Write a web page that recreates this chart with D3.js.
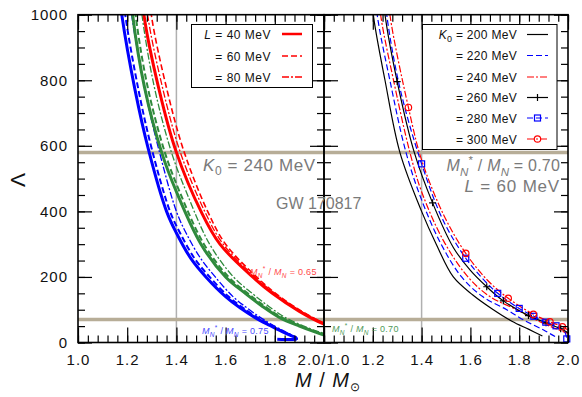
<!DOCTYPE html>
<html>
<head>
<meta charset="utf-8">
<script src="https://cdn.jsdelivr.net/npm/d3@7"></script>
<style>
  body { margin: 0; background: #fff; }
  text { font-family: "Liberation Sans", Arial, sans-serif; }
</style>
</head>
<body>
<svg id="chart" width="582" height="397"></svg>
<script>
// ---- axis / tick values ----
const massTicks = [1.0, 1.2, 1.4, 1.6, 1.8, 2.0];
const lambdaTicks = [0, 200, 400, 600, 800, 1000];
const gwLambdaBounds = [70, 580];
const gwMass = 1.4;

// ---- left panel: K0 = 240 MeV, MN*/MN = 0.75 (blue), 0.70 (green), 0.65 (red); L = 40, 60, 80 MeV ----
const mBlue40 = [1.16, 1.178, 1.232, 1.286, 1.36, 1.40, 1.46, 1.52, 1.60, 1.66, 1.72, 1.78, 1.83, 1.868, 1.885, 1.888, 1.87, 1.84, 1.81];
const lBlue40 = [1120, 1000, 770, 590, 400, 334, 255, 200, 140, 105, 76, 52, 33, 20, 15, 11, 9, 9, 10];
const mBlue60 = [1.175, 1.192, 1.246, 1.300, 1.374, 1.415, 1.475, 1.535, 1.612, 1.672, 1.730, 1.787, 1.835, 1.872, 1.887, 1.889, 1.87];
const lBlue60 = [1120, 1000, 770, 590, 400, 334, 255, 200, 140, 105, 76, 52, 33, 20, 15, 11, 8];
const mBlue80 = [1.20, 1.218, 1.272, 1.328, 1.400, 1.442, 1.500, 1.558, 1.630, 1.688, 1.742, 1.795, 1.842, 1.876, 1.888, 1.884];
const lBlue80 = [1120, 1000, 770, 590, 400, 330, 255, 200, 140, 105, 76, 52, 33, 20, 15, 12];

const mGreen40 = [1.208, 1.222, 1.27, 1.34, 1.40, 1.50, 1.60, 1.68, 1.75, 1.82, 1.90, 1.96, 2.00, 2.04];
const lGreen40 = [1120, 1000, 780, 580, 460, 300, 200, 150, 110, 76, 50, 33, 23, 15];
const mGreen60 = [1.22, 1.234, 1.283, 1.353, 1.413, 1.512, 1.612, 1.690, 1.760, 1.830, 1.908, 1.966, 2.006, 2.045];
const lGreen60 = [1120, 1000, 780, 580, 460, 300, 200, 150, 110, 76, 50, 33, 23, 15];
const mGreen80 = [1.245, 1.26, 1.31, 1.38, 1.44, 1.535, 1.632, 1.708, 1.776, 1.843, 1.918, 1.974, 2.012, 2.05];
const lGreen80 = [1120, 1000, 780, 580, 460, 300, 200, 150, 110, 76, 50, 34, 26, 17];

const mRed40 = [1.255, 1.268, 1.33, 1.40, 1.50, 1.577, 1.71, 1.79, 1.90, 2.00, 2.05];
const lRed40 = [1120, 1000, 770, 580, 400, 300, 200, 150, 95, 56, 44];
const mRed60 = [1.285, 1.298, 1.362, 1.432, 1.527, 1.600, 1.726, 1.803, 1.91, 2.01, 2.06];
const lRed60 = [1120, 1000, 770, 580, 400, 300, 200, 150, 95, 56, 44];
const mRed80 = [1.27, 1.283, 1.346, 1.416, 1.515, 1.59, 1.72, 1.80, 1.908, 2.008, 2.058];
const lRed80 = [1120, 1000, 770, 580, 400, 300, 200, 150, 95, 57, 45];

// ---- right panel: MN*/MN = 0.70, L = 60 MeV; K0 = 200 ... 300 MeV ----
const mK200 = [1.19, 1.202, 1.25, 1.311, 1.40, 1.46, 1.53, 1.61, 1.694, 1.77, 1.84, 1.895];
const lK200 = [1120, 1000, 800, 580, 400, 300, 200, 145, 100, 65, 40, 20];
const mK220 = [1.205, 1.218, 1.27, 1.336, 1.40, 1.48, 1.564, 1.65, 1.749, 1.82, 1.90, 1.947];
const lK220 = [1120, 1000, 800, 580, 435, 300, 200, 140, 100, 68, 38, 18];
const mK240 = [1.218, 1.232, 1.285, 1.352, 1.40, 1.49, 1.59, 1.68, 1.79, 1.88, 1.95, 2.0];
const lK240 = [1120, 1000, 800, 580, 460, 310, 200, 140, 100, 65, 42, 28];
const mK260 = [1.236, 1.25, 1.30, 1.37, 1.445, 1.53, 1.60, 1.667, 1.735, 1.838, 1.91, 1.97, 2.0];
const lK260 = [1120, 1000, 796, 580, 426, 290, 220, 170, 127, 82, 60, 42, 30];
const mK280 = [1.243, 1.257, 1.31, 1.40, 1.49, 1.581, 1.65, 1.712, 1.80, 1.86, 1.909, 1.951, 1.985, 1.995];
const lK280 = [1120, 1000, 780, 545, 370, 257, 195, 150, 104, 80, 62, 51, 35, 11];
const mK300 = [1.256, 1.27, 1.346, 1.40, 1.49, 1.581, 1.67, 1.755, 1.858, 1.926, 1.977, 2.0];
const lK300 = [1120, 1000, 717, 557, 390, 272, 190, 135, 86, 63, 48, 38];

// marker points on the K0 = 260, 280, 300 curves
const mK260Marks = [1.30, 1.445, 1.667, 1.735, 1.838, 1.91, 1.97];
const lK260Marks = [796, 426, 170, 127, 82, 60, 42];
const mK280Marks = [1.40, 1.581, 1.712, 1.80, 1.86, 1.909, 1.951, 1.995];
const lK280Marks = [545, 257, 150, 104, 80, 62, 51, 11];
const mK300Marks = [1.346, 1.581, 1.755, 1.858, 1.926, 1.977];
const lK300Marks = [717, 272, 135, 86, 63, 48];

const leftLegend = ["40", "60", "80"];
const rightLegend = ["200", "220", "240", "260", "280", "300"];

// ---- setup ----
const svg = d3.select("#chart");
const yTop = 14.7, yBottom = 342.5;
const xL = d3.scaleLinear().domain([1, 2]).range([78, 324]);
const xR = d3.scaleLinear().domain([1, 2]).range([324, 568]);
const y = d3.scaleLinear().domain([0, 1000]).range([yBottom, yTop]);

const RED = "#ff0000", BLUE = "#0000ff", GREEN = "#2f8a3c", BLACK = "#000";
const TAN = "#b7ad97", GRAYLINE = "#b0b0b0", TXTGRAY = "#7a7a7a";
const DASH = "6,3", DASHDOT = "7,2,2,2";

const defs = svg.append("defs");
defs.append("clipPath").attr("id", "clipL").append("rect")
  .attr("x", 78).attr("y", yTop).attr("width", 246).attr("height", yBottom - yTop);
defs.append("clipPath").attr("id", "clipR").append("rect")
  .attr("x", 324).attr("y", yTop).attr("width", 244).attr("height", yBottom - yTop);

// GW170817 reference lines
[xL, xR].forEach(x => {
  svg.append("line")
    .attr("x1", x(gwMass)).attr("x2", x(gwMass))
    .attr("y1", yTop).attr("y2", yBottom)
    .attr("stroke", GRAYLINE).attr("stroke-width", 1.5);
});
gwLambdaBounds.forEach(v => {
  svg.append("line")
    .attr("x1", xL(1)).attr("x2", xR(2))
    .attr("y1", y(v)).attr("y2", y(v))
    .attr("stroke", TAN).attr("stroke-width", 3.5);
});

function zip(ms, ls) { return ms.map((m, i) => [m, ls[i]]); }

function drawCurve(g, x, ms, ls, color, dash, width) {
  const line = d3.line()
    .x(d => x(d[0]))
    .y(d => y(d[1]))
    .curve(d3.curveCatmullRom.alpha(0.5));
  g.append("path")
    .datum(zip(ms, ls))
    .attr("d", line)
    .attr("fill", "none")
    .attr("stroke", color)
    .attr("stroke-width", width)
    .attr("stroke-dasharray", dash);
}

// left panel curves
const gL = svg.append("g").attr("clip-path", "url(#clipL)");
drawCurve(gL, xL, mBlue80, lBlue80, BLUE, DASHDOT, 1.3);
drawCurve(gL, xL, mBlue60, lBlue60, BLUE, DASH, 2);
drawCurve(gL, xL, mBlue40, lBlue40, BLUE, null, 3);
drawCurve(gL, xL, mGreen80, lGreen80, GREEN, DASHDOT, 1.3);
drawCurve(gL, xL, mGreen60, lGreen60, GREEN, DASH, 2);
drawCurve(gL, xL, mGreen40, lGreen40, GREEN, null, 3);
drawCurve(gL, xL, mRed80, lRed80, RED, DASHDOT, 1.3);
drawCurve(gL, xL, mRed60, lRed60, RED, DASH, 1.6);
drawCurve(gL, xL, mRed40, lRed40, RED, null, 3);

// right panel curves
const gR = svg.append("g").attr("clip-path", "url(#clipR)");
drawCurve(gR, xR, mK200, lK200, BLACK, null, 1.2);
drawCurve(gR, xR, mK220, lK220, BLUE, DASH, 1.2);
drawCurve(gR, xR, mK240, lK240, RED, DASHDOT, 1.2);
drawCurve(gR, xR, mK260, lK260, BLACK, null, 1.2);
drawCurve(gR, xR, mK280, lK280, BLUE, DASH, 1.2);
drawCurve(gR, xR, mK300, lK300, RED, DASHDOT, 1.2);

function plus(g, cx, cy) {
  g.append("path").attr("d", `M${cx - 3.5},${cy}h7M${cx},${cy - 3.5}v7`)
    .attr("stroke", BLACK).attr("stroke-width", 1.2);
}
function square(g, cx, cy) {
  g.append("rect").attr("x", cx - 3).attr("y", cy - 3).attr("width", 6).attr("height", 6)
    .attr("fill", "none").attr("stroke", BLUE).attr("stroke-width", 1.2);
}
function circle(g, cx, cy) {
  g.append("circle").attr("cx", cx).attr("cy", cy).attr("r", 3.2)
    .attr("fill", "none").attr("stroke", RED).attr("stroke-width", 1.2);
}
const gM = svg.append("g");
mK260Marks.forEach((m, i) => plus(gM, xR(m), y(lK260Marks[i])));
mK280Marks.forEach((m, i) => square(gM, xR(m), y(lK280Marks[i])));
mK300Marks.forEach((m, i) => circle(gM, xR(m), y(lK300Marks[i])));

// ---- axes ----
const minorLambda = d3.range(0, 1001, 50);
const minorMass = d3.range(1, 2.001, 0.04);
const fmtMass = d3.format(".1f");

function styleAxis(g) {
  g.select(".domain").remove();
  g.selectAll(".tick line").attr("stroke", BLACK).attr("stroke-width", 1.2);
  g.selectAll(".tick text")
    .attr("fill", "#111")
    .style("font-size", "15px")
    .style("letter-spacing", "1px")
    .style("font-family", "'Liberation Sans', Arial, sans-serif");
}

function yAxes(xpos, side, labels) {
  const maker = side === "left" ? d3.axisLeft : d3.axisRight;
  svg.append("g").attr("transform", `translate(${xpos},0)`)
    .call(maker(y).tickValues(minorLambda).tickSize(-7).tickFormat(""))
    .call(styleAxis);
  svg.append("g").attr("transform", `translate(${xpos},0)`)
    .call(maker(y).tickValues(lambdaTicks).tickSize(-14).tickPadding(10)
      .tickFormat(labels ? d3.format("d") : ""))
    .call(styleAxis);
}
yAxes(78, "left", true);
yAxes(324, "right", false);
yAxes(324, "left", false);
yAxes(568, "right", false);

function xAxes(x, skip) {
  [[d3.axisBottom, yBottom, true], [d3.axisTop, yTop, false]].forEach(([maker, ypos, labels]) => {
    svg.append("g").attr("transform", `translate(0,${ypos})`)
      .call(maker(x).tickValues(minorMass).tickSize(-7).tickFormat(""))
      .call(styleAxis);
    svg.append("g").attr("transform", `translate(0,${ypos})`)
      .call(maker(x).tickValues(massTicks).tickSize(-15).tickPadding(12)
        .tickFormat(d => (labels && d !== skip) ? fmtMass(d) : ""))
      .call(styleAxis);
  });
}
xAxes(xL, 2.0);
xAxes(xR, 1.0);

// shared label where the two panels meet
svg.append("text")
  .attr("x", 324).attr("y", yBottom + 12).attr("dy", "0.71em")
  .attr("text-anchor", "middle")
  .attr("fill", "#111")
  .style("font-size", "15px").style("letter-spacing", "1px")
  .text(fmtMass(massTicks[5]) + "/" + fmtMass(massTicks[0]));

// frames
[[78, 246], [324, 244]].forEach(([x0, w]) => {
  svg.append("rect").attr("x", x0).attr("y", yTop).attr("width", w).attr("height", yBottom - yTop)
    .attr("fill", "none").attr("stroke", BLACK).attr("stroke-width", 1.6);
});

// axis titles
const xt = svg.append("text").attr("x", 328).attr("y", 387)
  .attr("text-anchor", "middle").attr("fill", "#111")
  .style("font-size", "20px").style("letter-spacing", "1px");
xt.append("tspan").style("font-style", "italic").text("M");
xt.append("tspan").text(" / ");
xt.append("tspan").style("font-style", "italic").text("M");
xt.append("tspan").attr("dy", 4).style("font-size", "12px").text("\u2299");

svg.append("text")
  .attr("transform", "translate(25,180) rotate(-90)")
  .attr("text-anchor", "middle").attr("fill", "#111")
  .style("font-size", "21px")
  .text("\u039B");

// ---- rich label helper: MN* / MN = value ----
function mnLabel(x, yb, size, color, value, anchor, spacing) {
  const t = svg.append("text").attr("x", x).attr("y", yb)
    .attr("text-anchor", anchor).attr("fill", color)
    .style("font-size", size + "px").style("letter-spacing", spacing + "px");
  t.append("tspan").style("font-style", "italic").text("M");
  t.append("tspan").attr("dy", 0.3 * size).style("font-size", (0.72 * size) + "px").style("font-style", "italic").text("N");
  t.append("tspan").attr("dy", -0.75 * size).style("font-size", (0.72 * size) + "px").text("*");
  t.append("tspan").attr("dy", 0.45 * size).text(" / ");
  t.append("tspan").style("font-style", "italic").text("M");
  t.append("tspan").attr("dy", 0.3 * size).style("font-size", (0.72 * size) + "px").style("font-style", "italic").text("N");
  t.append("tspan").attr("dy", -0.3 * size).text(" =  " + value);
  return t;
}

mnLabel(250, 275, 9, "#ff4a4a", "0.65", "start", 0.3);
mnLabel(202, 334, 9, "#4a4aff", "0.75", "start", 0.3);
mnLabel(332, 332, 9, "#4f9a5a", "0.70", "start", 0.3);
mnLabel(560, 171, 16, TXTGRAY, "0.70", "end", 0.2);

// K0 = 240 MeV
const k0 = svg.append("text").attr("x", 203).attr("y", 171).attr("fill", TXTGRAY)
  .style("font-size", "17px").style("letter-spacing", "0.6px");
k0.append("tspan").style("font-style", "italic").text("K");
k0.append("tspan").attr("dy", 4).style("font-size", "12px").text("0");
k0.append("tspan").attr("dy", -4).text(" =  240 MeV");

const lt = svg.append("text").attr("x", 560).attr("y", 192).attr("fill", TXTGRAY)
  .attr("text-anchor", "end")
  .style("font-size", "17px").style("letter-spacing", "0.8px");
lt.append("tspan").style("font-style", "italic").text("L");
lt.append("tspan").text(" =  60 MeV");

svg.append("text").attr("x", 276).attr("y", 209).attr("fill", TXTGRAY)
  .style("font-size", "16px").text("GW 170817");

// ---- legends ----
function sample(x1, x2, yy, color, dash, width) {
  svg.append("line").attr("x1", x1).attr("x2", x2).attr("y1", yy).attr("y2", yy)
    .attr("stroke", color).attr("stroke-width", width).attr("stroke-dasharray", dash);
}

svg.append("rect").attr("x", 191.5).attr("y", 24.5).attr("width", 121).attr("height", 63)
  .attr("fill", "#fff").attr("stroke", BLACK).attr("stroke-width", 1);
const lStyles = [[null, 2.5], [DASH, 1.6], [DASHDOT, 1.3]];
const lRows = [34, 56, 77];
leftLegend.forEach((v, i) => {
  const t = svg.append("text").attr("x", 271).attr("y", lRows[i] + 4.5).attr("text-anchor", "end")
    .attr("fill", "#111").style("font-size", "12px").style("letter-spacing", "0.5px");
  if (i === 0) t.append("tspan").style("font-style", "italic").text("L");
  t.append("tspan").text(" =  " + v + " MeV");
  sample(282, 302, lRows[i], RED, lStyles[i][0], lStyles[i][1]);
});

svg.append("rect").attr("x", 422.5).attr("y", 24.5).attr("width", 134.5).attr("height", 125)
  .attr("fill", "#fff").attr("stroke", BLACK).attr("stroke-width", 1);
const rStyles = [[BLACK, null], [BLUE, DASH], [RED, DASHDOT], [BLACK, null], [BLUE, DASH], [RED, DASHDOT]];
const rRows = [34.5, 55.5, 77, 97.5, 118, 139];
rightLegend.forEach((v, i) => {
  const t = svg.append("text").attr("x", 517).attr("y", rRows[i] + 4.5).attr("text-anchor", "end")
    .attr("fill", "#111").style("font-size", "12px").style("letter-spacing", "0.3px");
  if (i === 0) {
    t.append("tspan").style("font-style", "italic").text("K");
    t.append("tspan").attr("dy", 3).style("font-size", "9px").text("0");
    t.append("tspan").attr("dy", -3).text(" =  " + v + " MeV");
  } else {
    t.text("=  " + v + " MeV");
  }
  sample(527, 548, rRows[i], rStyles[i][0], rStyles[i][1], 1.2);
});
plus(svg, 537.5, rRows[3]);
square(svg, 537.5, rRows[4]);
circle(svg, 537.5, rRows[5]);
</script>
</body>
</html>
